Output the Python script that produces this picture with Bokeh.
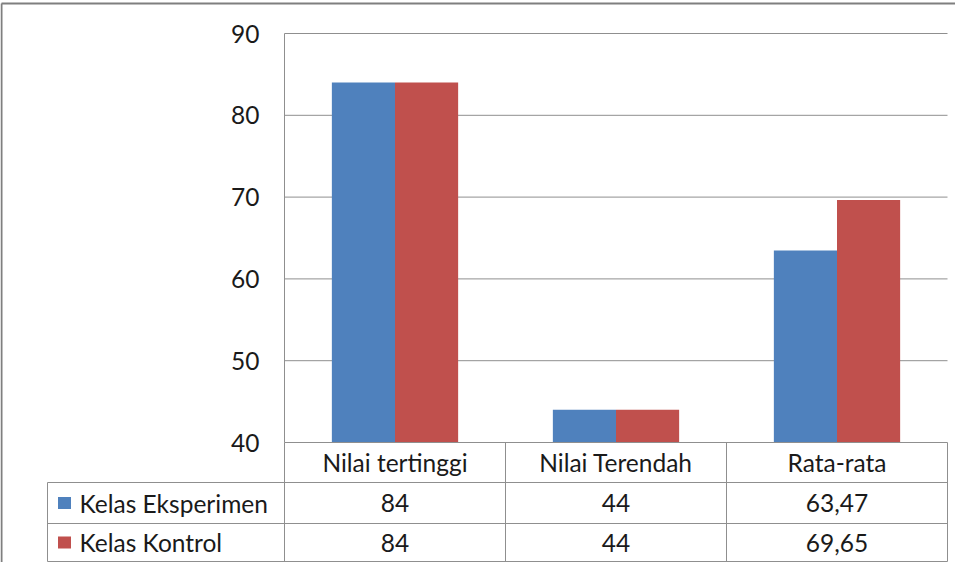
from bokeh.plotting import figure
from bokeh.models import Range1d
from bokeh.embed import file_html
from bokeh.resources import INLINE
from bokeh.core.properties import value

# ---- data ----
categories = ["Nilai tertinggi", "Nilai Terendah", "Rata-rata"]
series_names = ["Kelas Eksperimen", "Kelas Kontrol"]
eksperimen = [84, 44, 63.47]
kontrol = [84, 44, 69.65]
y_ticks = [40, 50, 60, 70, 80, 90]
colors = ["#4F81BD", "#C0504D"]

FONT = value("Lato")
FS = "24.5px"
TXT = "#1a1a1a"
LINE = "#8f8f8f"

W, H = 955, 562
# page-pixel geometry (page coords; figure starts at page (8, 8))
OX, OY = 8, 8
plot_left, plot_right = 292, 955
plot_top, plot_bottom = 41, 450
ymin, ymax = y_ticks[0], y_ticks[-1]
ncat = len(categories)

# data ranges mapped so that the frame fills the whole canvas
px_per_x = (plot_right - plot_left) / ncat
px_per_y = (plot_bottom - plot_top) / (ymax - ymin)
x0 = (OX - plot_left) / px_per_x
x1 = (OX + W - plot_left) / px_per_x
y1 = ymax + (plot_top - OY) / px_per_y
y0 = ymin - (OY + H - plot_bottom) / px_per_y

p = figure(width=W, height=H, output_backend="svg", toolbar_location=None,
           x_range=Range1d(x0, x1), y_range=Range1d(y0, y1),
           min_border=0, min_border_left=0, min_border_right=0,
           min_border_top=0, min_border_bottom=0)
p.axis.visible = False
p.grid.visible = False
p.outline_line_color = None
p.background_fill_color = "white"
p.border_fill_color = "white"

# page-pixel ranges for the surrounding table/border (y flipped)
p.extra_x_ranges = {"px": Range1d(OX, OX + W)}
p.extra_y_ranges = {"px": Range1d(OY + H, OY)}

# ---- gridlines and value axis ----
grid_ticks = y_ticks[1:]
p.segment(x0=[0] * len(grid_ticks), x1=[ncat] * len(grid_ticks),
          y0=grid_ticks, y1=grid_ticks, line_color=LINE, line_width=1)
p.segment(x0=[0], x1=[0], y0=[ymin], y1=[ymax], line_color=LINE, line_width=1)

# y tick labels
p.text(x=[0] * len(y_ticks), y=y_ticks, text=[str(t) for t in y_ticks],
       x_offset=-25, text_align="right", text_baseline="middle",
       text_font=FONT, text_font_size=FS, text_color=TXT)

# ---- bars ----
bar_w = 1 / 3.5  # Excel gap width 150%
centers = [i + 0.5 for i in range(ncat)]
p.vbar(x=[c - bar_w / 2 for c in centers], width=bar_w, bottom=ymin,
       top=eksperimen, fill_color=colors[0], line_color=None)
p.vbar(x=[c + bar_w / 2 for c in centers], width=bar_w, bottom=ymin,
       top=kontrol, fill_color=colors[1], line_color=None)

# ---- data table ----
table_left = 55
row_lines = [450, 490, 531, 569]
header_mid = (row_lines[0] + row_lines[1]) / 2
row_mids = [(row_lines[1] + row_lines[2]) / 2, (row_lines[2] + row_lines[3]) / 2]

# horizontal table lines
p.segment(x0=[plot_left, table_left, table_left, table_left],
          x1=[plot_right] * 4, y0=row_lines, y1=row_lines,
          line_color=LINE, line_width=1, x_range_name="px", y_range_name="px")
# vertical dividers between categories (data x positions)
p.segment(x0=list(range(ncat + 1)), x1=list(range(ncat + 1)),
          y0=[row_lines[0]] * (ncat + 1), y1=[row_lines[-1]] * (ncat + 1),
          line_color=LINE, line_width=1, y_range_name="px")
# left edge of legend column
p.segment(x0=[table_left], x1=[table_left], y0=[row_lines[1]], y1=[row_lines[-1]],
          line_color=LINE, line_width=1, x_range_name="px", y_range_name="px")

# header labels
p.text(x=centers, y=[header_mid] * ncat, text=categories, y_range_name="px",
       text_align="center", text_baseline="middle",
       text_font=FONT, text_font_size=FS, text_color=TXT)


def fmt(v):
    return f"{v:g}".replace(".", ",")


for vals, ym in zip([eksperimen, kontrol], row_mids):
    p.text(x=centers, y=[ym] * ncat, text=[fmt(v) for v in vals], y_range_name="px",
           text_align="center", text_baseline="middle",
           text_font=FONT, text_font_size=FS, text_color=TXT)

# legend keys + series names
p.rect(x=[72, 72], y=row_mids, width=13, height=12, fill_color=colors,
       line_color=None, x_range_name="px", y_range_name="px")
p.text(x=[87, 87], y=row_mids, text=series_names, x_range_name="px", y_range_name="px",
       text_align="left", text_baseline="middle",
       text_font=FONT, text_font_size=FS, text_color=TXT)

# outer chart border
p.segment(x0=[9, 9], x1=[OX + W, 9], y0=[11, 11], y1=[11, OY + H],
          line_color="#7f7f7f", line_width=2, x_range_name="px", y_range_name="px")

open("out.html", "w").write(file_html(p, INLINE))
